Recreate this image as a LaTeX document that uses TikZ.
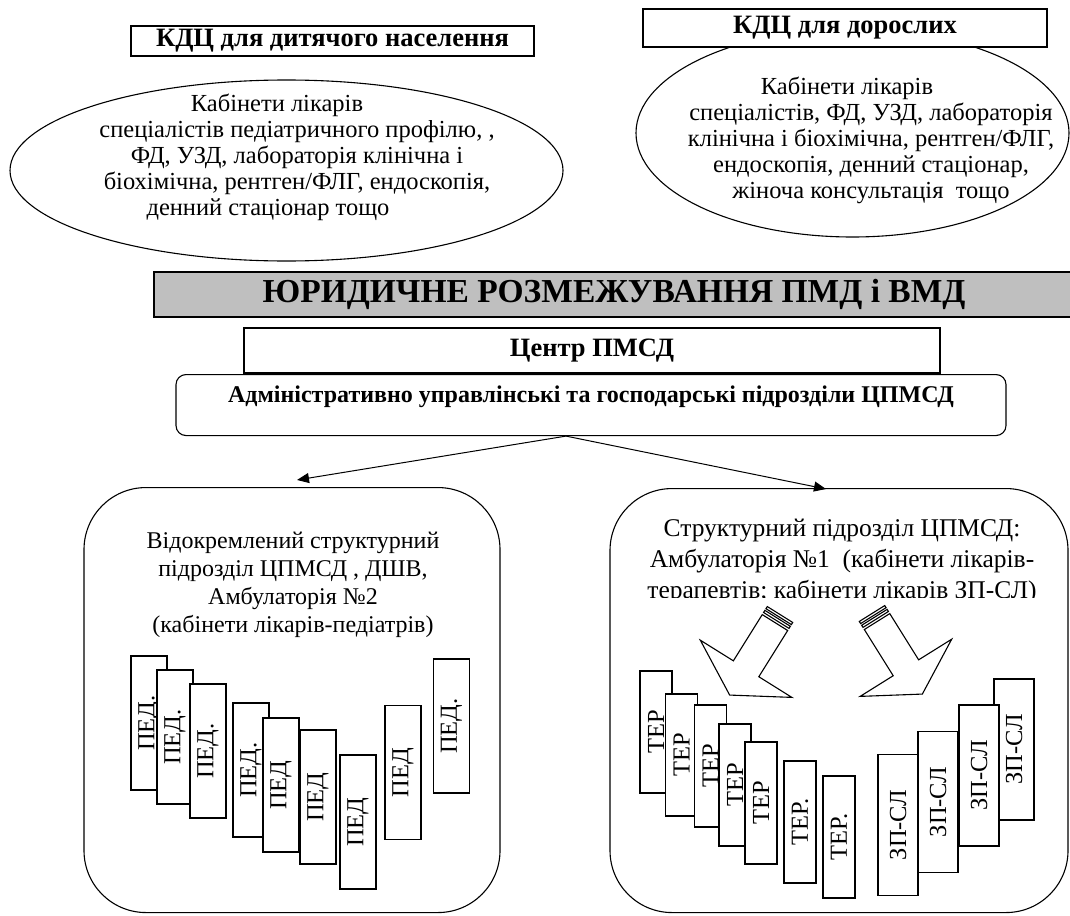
\documentclass[tikz,border=0pt]{standalone}
\usepackage{fontspec}
\setmainfont{Liberation Serif}
\usetikzlibrary{arrows.meta,shapes.geometric}
\tikzset{
  head/.style={draw, fill=white, inner sep=0pt, font=\bfseries\fontsize{26.5}{30}\selectfont},
  band/.style={draw, fill=gray!50, inner sep=0pt, font=\bfseries\fontsize{33.5}{38}\selectfont},
  oval/.style={draw, ellipse, inner sep=0pt},
  ovaltext/.style={align=center, inner sep=0pt, font=\fontsize{24.5}{26}\selectfont},
  admin/.style={draw, rounded corners=10pt, inner sep=0pt, font=\bfseries\fontsize{24}{28}\selectfont},
  unit/.style={draw, rounded corners=62pt, inner sep=0pt},
  unittext/.style 2 args={align=center, inner sep=0pt, font=\fontsize{#1}{#2}\selectfont},
  cab/.style={draw, fill=white, rotate=90, inner sep=0pt, minimum width=#1, font=\fontsize{24.5}{25}\selectfont},
  ped/.style={cab=134pt, minimum height=36pt},
  ter/.style={cab=122pt, minimum height=32pt},
  zp/.style={cab=141pt, minimum height=40pt},
  link/.style={-{Triangle[length=12pt,width=10pt]}, line width=1pt},
  stripe arrow/.pic={
    \draw[fill=white] (0,-15) rectangle (2.5,15) (4.5,-15) rectangle (7,15);
    \draw[fill=white] (9.5,-15) -- (64,-15) -- (64,-54) -- (95,0) -- (64,54) -- (64,15) -- (9.5,15) -- cycle;
  }
}

\begin{document}
\begin{tikzpicture}[x=1pt, y=-1pt, line width=1.1pt]
\path[use as bounding box, clip] (0,0) rectangle (1070,915);

\node[oval, minimum width=553pt, minimum height=181pt] (childoval) at (286.5,170.5) {};
\node[ovaltext] (childtext) at (297,157) {Кабінети лікарів\hspace*{40pt}\\спеціалістів педіатричного профілю, ,\\ФД, УЗД, лабораторія клінічна і\\біохімічна, рентген/ФЛГ, ендоскопія,\\денний стаціонар тощо\hspace*{58pt}};
\node[head, minimum width=403pt, minimum height=30pt] (childhead) at (332.5,41) {КДЦ для дитячого населення};

\node[oval, minimum width=433pt, minimum height=208pt] (adultoval) at (852.5,133) {};
\node[ovaltext] (adulttext) at (871,140) {Кабінети лікарів\hspace*{48pt}\\спеціалістів, ФД, УЗД, лабораторія\\клінічна і біохімічна, рентген/ФЛГ,\\ендоскопія, денний стаціонар,\\жіноча консультація\ \ тощо};
\node[head, minimum width=404pt, minimum height=38pt] (adulthead) at (845,28) {КДЦ для дорослих};

\node[band, minimum width=920pt, minimum height=45pt] (split) at (614,294.5) {ЮРИДИЧНЕ РОЗМЕЖУВАННЯ ПМД і ВМД};
\node[head, minimum width=696pt, minimum height=45pt] (centre) at (592,350.5) {Центр ПМСД};
\node[admin, minimum width=830pt, text height=28pt, text depth=33pt, anchor=north] (admin) at (591,374) {Адміністративно управлінські та господарські підрозділи ЦПМСД};

\node[unit, minimum width=416pt, minimum height=425pt, anchor=north] (pedunit) at (292,487) {};
\node[unittext={24}{28}] (pedtext) at (293,585) {Відокремлений структурний\\підрозділ ЦПМСД , ДШВ,\\Амбулаторія №2\\(кабінети лікарів-педіатрів)};

\node[unit, minimum width=458pt, minimum height=424pt, anchor=north] (terunit) at (839,488) {};
\begin{scope}
\clip (612,500) rectangle (1066,597);
\node[unittext={25.5}{31}] (tertext) at (842,561) {Структурний підрозділ ЦПМСД:\\Амбулаторія №1\ \ (кабінети лікарів-\\терапевтів; кабінети лікарів ЗП-СЛ)};
\end{scope}

\coordinate (fork) at ([xshift=-25pt]admin.south);
\draw[link] (fork) -- ([xshift=5pt,yshift=7pt]pedunit.north);
\draw[link] (fork) -- ([xshift=-13pt,yshift=-1pt]terunit.north);

\pic[rotate=-122] at (780,614.5) {stripe arrow};
\pic[rotate=-58] at (872,613.5) {stripe arrow};

\foreach \x/\y/\lab [count=\i] in {149/723/ПЕД., 175/737/ПЕД., 208/751/ПЕД., 251/770/ПЕД., 281/785/ПЕД, 318/797/ПЕД, 358/822/ПЕД, 403/772.5/ПЕД, 451.5/726/ПЕД.}
  \node[ped] (ped\i) at (\x,\y) {\lab};

\foreach \x/\y/\lab [count=\i] in {656/732/ТЕР, 681.5/755/ТЕР, 710.5/766/ТЕР, 735/785/ТЕР, 761/803/ТЕР, 800/822/ТЕР., 839/837/ТЕР.}
  \node[ter] (ter\i) at (\x,\y) {\lab};

\foreach \x/\y [count=\i] in {1014/749.5, 979/775.5, 938/802, 898/825}
  \node[zp] (zp\i) at (\x,\y) {ЗП-СЛ};
\end{tikzpicture}
\end{document}
